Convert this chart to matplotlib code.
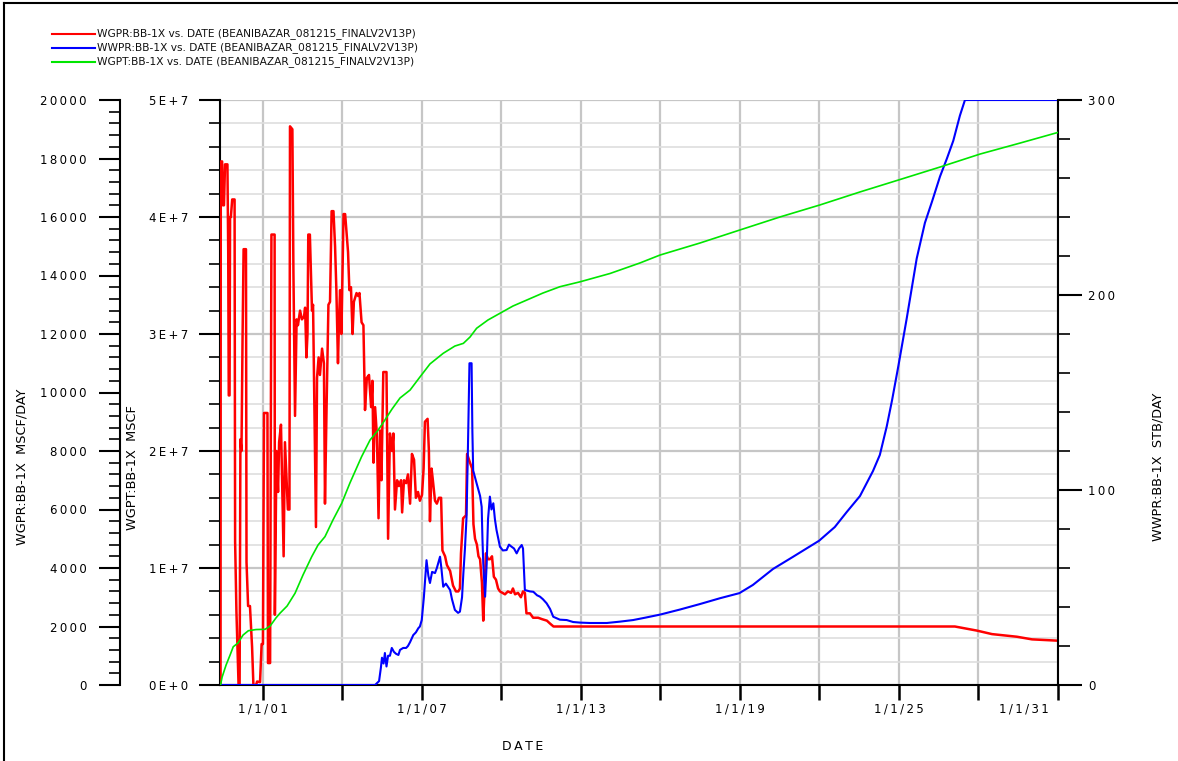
import matplotlib
matplotlib.use('Agg')
import matplotlib.pyplot as plt
from matplotlib.ticker import MultipleLocator, FuncFormatter
from matplotlib.lines import Line2D

# WGPR:BB-1X gas rate, MSCF/DAY (decimal year, value)
wgpr_year = [1999.41, 1999.42, 1999.47, 1999.50, 1999.54, 1999.58, 1999.67, 1999.70, 1999.72, 1999.75,
             1999.77, 1999.80, 1999.85, 1999.94, 1999.96, 2000.01, 2000.09, 2000.13, 2000.16, 2000.20,
             2000.24, 2000.28, 2000.37, 2000.39, 2000.45, 2000.52, 2000.60, 2000.65, 2000.75, 2000.79,
             2000.90, 2000.96, 2001.01, 2001.05, 2001.18, 2001.20, 2001.28, 2001.33, 2001.45, 2001.46,
             2001.52, 2001.58, 2001.62, 2001.69, 2001.79, 2001.84, 2001.95, 2002.01, 2002.03, 2002.12,
             2002.16, 2002.22, 2002.28, 2002.33, 2002.41, 2002.48, 2002.56, 2002.60, 2002.65, 2002.69,
             2002.72, 2002.78, 2002.82, 2002.86, 2002.90, 2003.01, 2003.05, 2003.11, 2003.16, 2003.24,
             2003.31, 2003.35, 2003.41, 2003.48, 2003.54, 2003.60, 2003.67, 2003.73, 2003.78, 2003.84,
             2003.88, 2003.92, 2003.97, 2004.05, 2004.11, 2004.16, 2004.22, 2004.27, 2004.33, 2004.39,
             2004.44, 2004.54, 2004.60, 2004.65, 2004.73, 2004.80, 2004.86, 2004.93, 2005.01, 2005.09,
             2005.14, 2005.18, 2005.24, 2005.31, 2005.37, 2005.43, 2005.48, 2005.55, 2005.67, 2005.73,
             2005.80, 2005.88, 2005.93, 2005.99, 2006.07, 2006.14, 2006.22, 2006.26, 2006.33, 2006.41,
             2006.48, 2006.56, 2006.63, 2006.71, 2006.78, 2006.86, 2006.93, 2007.01, 2007.07, 2007.12,
             2007.22, 2007.27, 2007.31, 2007.37, 2007.42, 2007.50, 2007.57, 2007.65, 2007.73, 2007.78,
             2007.88, 2007.95, 2008.07, 2008.18, 2008.29, 2008.38, 2008.44, 2008.48, 2008.56, 2008.67,
             2008.71, 2008.82, 2008.90, 2008.95, 2009.01, 2009.08, 2009.14, 2009.20, 2009.27, 2009.32,
             2009.37, 2009.42, 2009.50, 2009.57, 2009.65, 2009.72, 2009.80, 2009.88, 2009.95, 2010.14,
             2010.25, 2010.37, 2010.44, 2010.52, 2010.63, 2010.74, 2010.82, 2010.89, 2010.95, 2011.08,
             2011.20, 2011.39, 2011.54, 2011.72, 2011.84, 2011.97, 2027.11, 2027.94, 2028.51, 2029.45,
             2030.02, 2031.00]
wgpr_value = [0, 17900, 17900, 16400, 16400, 17800, 17800, 14800, 9900, 9900,
              16000, 16000, 16600, 16600, 4900, 2500, 0, 0, 8400, 8000,
              11800, 14900, 14900, 4200, 2700, 2700, 1300, 0, 0, 120,
              100, 1400, 1400, 9300, 9300, 750, 750, 15400, 15400, 2400,
              8000, 6600, 8300, 8900, 4400, 8300, 6000, 6000, 19100, 19000,
              14100, 9200, 12500, 12300, 12800, 12500, 12600, 12900, 11200, 12000,
              15400, 15400, 14100, 12800, 13000, 5400, 10500, 11200, 10600, 11500,
              11000, 6200, 9500, 13000, 13100, 16200, 16200, 15000, 13500, 11000,
              12500, 13500, 12000, 16100, 16100, 15500, 14800, 13500, 13600, 12000,
              13100, 13400, 13300, 13400, 12400, 12300, 9400, 10500, 10600, 9500,
              10400, 7600, 9500, 8500, 5700, 8700, 7000, 10700, 10700, 5000,
              8600, 8000, 8600, 6000, 7000, 6800, 7000, 5900, 7000, 6900,
              7200, 6200, 7900, 7700, 6400, 6600, 6300, 6500, 7400, 9000,
              9100, 8000, 5600, 7400, 7000, 6300, 6200, 6400, 6400, 4600,
              4400, 4100, 3900, 3400, 3200, 3200, 3300, 4500, 5700, 5800,
              7900, 7600, 7400, 5500, 5000, 4800, 4400, 4300, 3500, 2200,
              3300, 4500, 4300, 4300, 4400, 3700, 3600, 3300, 3200, 3100,
              3200, 3150, 3300, 3100, 3150, 3000, 3200, 3150, 2450, 2450,
              2300, 2300, 2250, 2200, 2100, 2000, 2000, 1860, 1740, 1650,
              1560, 1515]

# WWPR:BB-1X water rate, STB/DAY
wwpr_year = [1999.39, 2005.24, 2005.39, 2005.46, 2005.50, 2005.56, 2005.61, 2005.67, 2005.73, 2005.80,
             2005.87, 2005.95, 2006.03, 2006.12, 2006.18, 2006.30, 2006.41, 2006.48, 2006.56, 2006.68,
             2006.78, 2006.87, 2006.93, 2007.00, 2007.08, 2007.18, 2007.25, 2007.31, 2007.39, 2007.50,
             2007.57, 2007.69, 2007.74, 2007.81, 2007.91, 2008.07, 2008.14, 2008.25, 2008.37, 2008.44,
             2008.52, 2008.57, 2008.63, 2008.69, 2008.74, 2008.80, 2008.88, 2008.91, 2008.94, 2009.07,
             2009.20, 2009.26, 2009.29, 2009.32, 2009.39, 2009.45, 2009.50, 2009.57, 2009.63, 2009.70,
             2009.76, 2009.82, 2009.95, 2010.06, 2010.20, 2010.29, 2010.39, 2010.48, 2010.58, 2010.67,
             2010.77, 2010.82, 2010.89, 2011.08, 2011.21, 2011.35, 2011.46, 2011.57, 2011.71, 2011.84,
             2011.96, 2012.21, 2012.47, 2012.71, 2012.97, 2013.35, 2013.98, 2014.48, 2014.97, 2015.42,
             2015.99, 2016.74, 2017.49, 2018.25, 2018.98, 2019.49, 2020.25, 2021.00, 2021.99, 2022.58,
             2023.03, 2023.53, 2024.02, 2024.28, 2024.54, 2024.74, 2024.98, 2025.29, 2025.67, 2025.98,
             2026.25, 2026.55, 2026.81, 2027.05, 2027.30, 2027.49, 2031.00]
wwpr_value = [0, 0, 2, 9, 14, 11, 16.4, 9.5, 15, 15,
              19, 17, 16, 15.4, 18, 19, 19, 20, 22, 25.6,
              27, 29.1, 30, 33.3, 45, 64, 56, 52.3, 58, 57.4,
              60, 65.8, 60, 50.4, 52, 48.7, 44, 38.5, 37, 37.6,
              45, 57.3, 70, 86.3, 120, 165, 165, 130, 110, 103.4,
              97, 91.4, 75, 62.4, 45.3, 62.4, 85, 96.6, 90, 93.2,
              85, 79.5, 70.9, 69, 69.2, 72, 70.9, 70, 67.5, 70,
              71.8, 70, 48.7, 48, 47.8, 46, 45.3, 44, 41.9, 39,
              35, 33.5, 33.3, 32.3, 32, 31.8, 31.8, 32.5, 33.3, 34.5,
              36.1, 38.7, 41.5, 44.5, 47.1, 51.3, 59.5, 65.7, 74, 81,
              88.7, 96.9, 109.7, 118, 132.6, 146, 163.7, 187.7, 218.7, 237,
              248, 260.8, 270, 279.1, 292, 300, 300]

# WGPT:BB-1X cumulative gas, MSCF
wgpt_year = [1999.41, 1999.47, 1999.62, 1999.77, 1999.89, 2000.07, 2000.26, 2000.46, 2000.75, 2001.09,
             2001.28, 2001.50, 2001.65, 2001.92, 2002.22, 2002.52, 2002.85, 2003.09, 2003.35, 2003.65,
             2003.98, 2004.29, 2004.73, 2005.05, 2005.36, 2005.61, 2005.88, 2006.18, 2006.56, 2006.93,
             2007.31, 2007.81, 2008.25, 2008.57, 2008.82, 2009.07, 2009.50, 2009.95, 2010.44, 2010.96,
             2011.57, 2012.21, 2012.97, 2014.10, 2015.23, 2015.99, 2017.50, 2019.00, 2020.51, 2022.02,
             2023.53, 2024.98, 2026.55, 2028.06, 2029.57, 2031.00]
wgpt_value = [0, 0.68e6, 1.71e6, 2.56e6, 3.27e6, 3.59e6, 4.27e6, 4.64e6, 4.74e6, 4.76e6,
              5.04e6, 5.73e6, 6.13e6, 6.75e6, 7.84e6, 9.4e6, 10.97e6, 11.97e6, 12.68e6, 14.1e6,
              15.53e6, 17.26e6, 19.51e6, 20.94e6, 21.8e6, 22.65e6, 23.59e6, 24.53e6, 25.21e6, 26.32e6,
              27.44e6, 28.35e6, 28.97e6, 29.2e6, 29.74e6, 30.49e6, 31.2e6, 31.77e6, 32.39e6, 32.9e6,
              33.5e6, 34.04e6, 34.46e6, 35.17e6, 36.07e6, 36.75e6, 37.78e6, 38.89e6, 40.0e6, 41.03e6,
              42.14e6, 43.16e6, 44.27e6, 45.38e6, 46.32e6, 47.23e6]

legend_labels = ['WGPR:BB-1X vs. DATE (BEANIBAZAR_081215_FINALV2V13P)',
                 'WWPR:BB-1X vs. DATE (BEANIBAZAR_081215_FINALV2V13P)',
                 'WGPT:BB-1X vs. DATE (BEANIBAZAR_081215_FINALV2V13P)']

RED, BLUE, GREEN = '#ff0000', '#0000ff', '#00e600'
TICK_FS = 8.5


def spaced(s):
    # wide letter spacing like the plotting package's stroke font
    return '\u2009'.join(s)


def date_label(v, pos):
    yr = int(round(v))
    if (yr - 2001) % 6 == 0 and yr < 2031:
        return spaced('1/1/%02d' % (yr % 100))
    return ''


def sci_label(v, pos):
    if v == 0:
        return spaced('0E+0')
    return spaced('%dE+7' % round(v / 1e7))


W, H = 1178, 761
fig = plt.figure(figsize=(W / 100, H / 100), dpi=100)
left, right, bottom, top = 220, 1058, 685, 100
ax = fig.add_axes([left / W, 1 - bottom / H, (right - left) / W, (bottom - top) / H])

# cumulative gas axis + grid
ax.set_xlim(1999.39, 2031.0)
ax.set_ylim(0, 5e7)
ax.xaxis.set_major_locator(MultipleLocator(3))
ax.xaxis.set_major_formatter(FuncFormatter(date_label))
ax.yaxis.set_major_locator(MultipleLocator(1e7))
ax.yaxis.set_minor_locator(MultipleLocator(2e6))
ax.yaxis.set_major_formatter(FuncFormatter(sci_label))
ax.grid(which='major', color='#c6c6c6', lw=1.6)
ax.grid(which='minor', axis='y', color='#dedede', lw=1.2)
ax.set_axisbelow(True)
for s in ['top', 'right']:
    ax.spines[s].set_visible(False)
for s in ['left', 'bottom']:
    ax.spines[s].set_linewidth(1.5)
ax.tick_params(axis='y', which='major', length=15, width=1.5, pad=8, labelsize=TICK_FS)
ax.tick_params(axis='y', which='minor', length=8, width=1.2)
ax.tick_params(axis='x', which='major', length=11, width=1.8, pad=1.5, labelsize=TICK_FS)
ax.annotate(spaced('1/1/31'), xy=(2031.0, 0), xycoords=('data', 'axes fraction'),
            xytext=(-7, -12.5), textcoords='offset points', ha='right', va='top',
            fontsize=TICK_FS)

# gas rate axis, pushed out to the left
ax_gpr = ax.twinx()
ax_gpr.set_ylim(0, 20000)
ax_gpr.yaxis.tick_left()
ax_gpr.spines['left'].set_position(('outward', 72))
ax_gpr.spines['left'].set_linewidth(1.5)
for s in ['top', 'right', 'bottom']:
    ax_gpr.spines[s].set_visible(False)
ax_gpr.yaxis.set_major_locator(MultipleLocator(2000))
ax_gpr.yaxis.set_minor_locator(MultipleLocator(400))
ax_gpr.yaxis.set_major_formatter(FuncFormatter(lambda v, p: spaced('%d' % v)))
ax_gpr.tick_params(axis='y', which='major', length=15, width=1.5, pad=9, labelsize=TICK_FS)
ax_gpr.tick_params(axis='y', which='minor', length=8, width=1.2)

# water rate axis on the right
ax_wpr = ax.twinx()
ax_wpr.set_ylim(0, 300)
for s in ['top', 'left', 'bottom']:
    ax_wpr.spines[s].set_visible(False)
ax_wpr.spines['right'].set_linewidth(1.5)
ax_wpr.yaxis.set_major_locator(MultipleLocator(100))
ax_wpr.yaxis.set_minor_locator(MultipleLocator(20))
ax_wpr.yaxis.set_major_formatter(FuncFormatter(lambda v, p: spaced('%d' % v)))
ax_wpr.tick_params(axis='y', which='major', length=17.5, width=1.5, pad=4, labelsize=TICK_FS)
ax_wpr.tick_params(axis='y', which='minor', length=8.5, width=1.2)

# overlay so the cumulative curve sits on top
ax_g = ax.twinx()
ax_g.set_ylim(0, 5e7)
ax_g.axis('off')

ax_gpr.plot(wgpr_year, wgpr_value, color=RED, lw=1.8)
ax_wpr.plot(wwpr_year, wwpr_value, color=BLUE, lw=1.5)
ax_g.plot(wgpt_year, wgpt_value, color=GREEN, lw=1.2)

# axis titles
fig.text(22 / W, 1 - 467 / H, 'WGPR:BB-1X  MSCF/DAY', rotation=90, ha='center', va='center', fontsize=9.3)
fig.text(133 / W, 1 - 468 / H, 'WGPT:BB-1X  MSCF', rotation=90, ha='center', va='center', fontsize=9.3)
fig.text(1158 / W, 1 - 467 / H, 'WWPR:BB-1X  STB/DAY', rotation=90, ha='center', va='center', fontsize=9.3)
fig.text(523 / W, 1 - 746 / H, spaced('DATE'), ha='center', va='center', fontsize=9)

# legend block top-left
for i, (lab, col) in enumerate(zip(legend_labels, [RED, BLUE, GREEN])):
    yy = 1 - (34 + 14 * i) / H
    fig.add_artist(Line2D([52 / W, 95 / W], [yy, yy], color=col, lw=1.5, transform=fig.transFigure))
    fig.text(97 / W, yy, lab, ha='left', va='center', fontsize=7.7, color='#111111')

# outer frame (left and top edges)
fig.add_artist(Line2D([4 / W, 4 / W], [0, 1 - 3 / H], color='black', lw=1.5, transform=fig.transFigure))
fig.add_artist(Line2D([4 / W, 1], [1 - 3 / H, 1 - 3 / H], color='black', lw=1.5, transform=fig.transFigure))

fig.savefig('out.png', dpi=100)
